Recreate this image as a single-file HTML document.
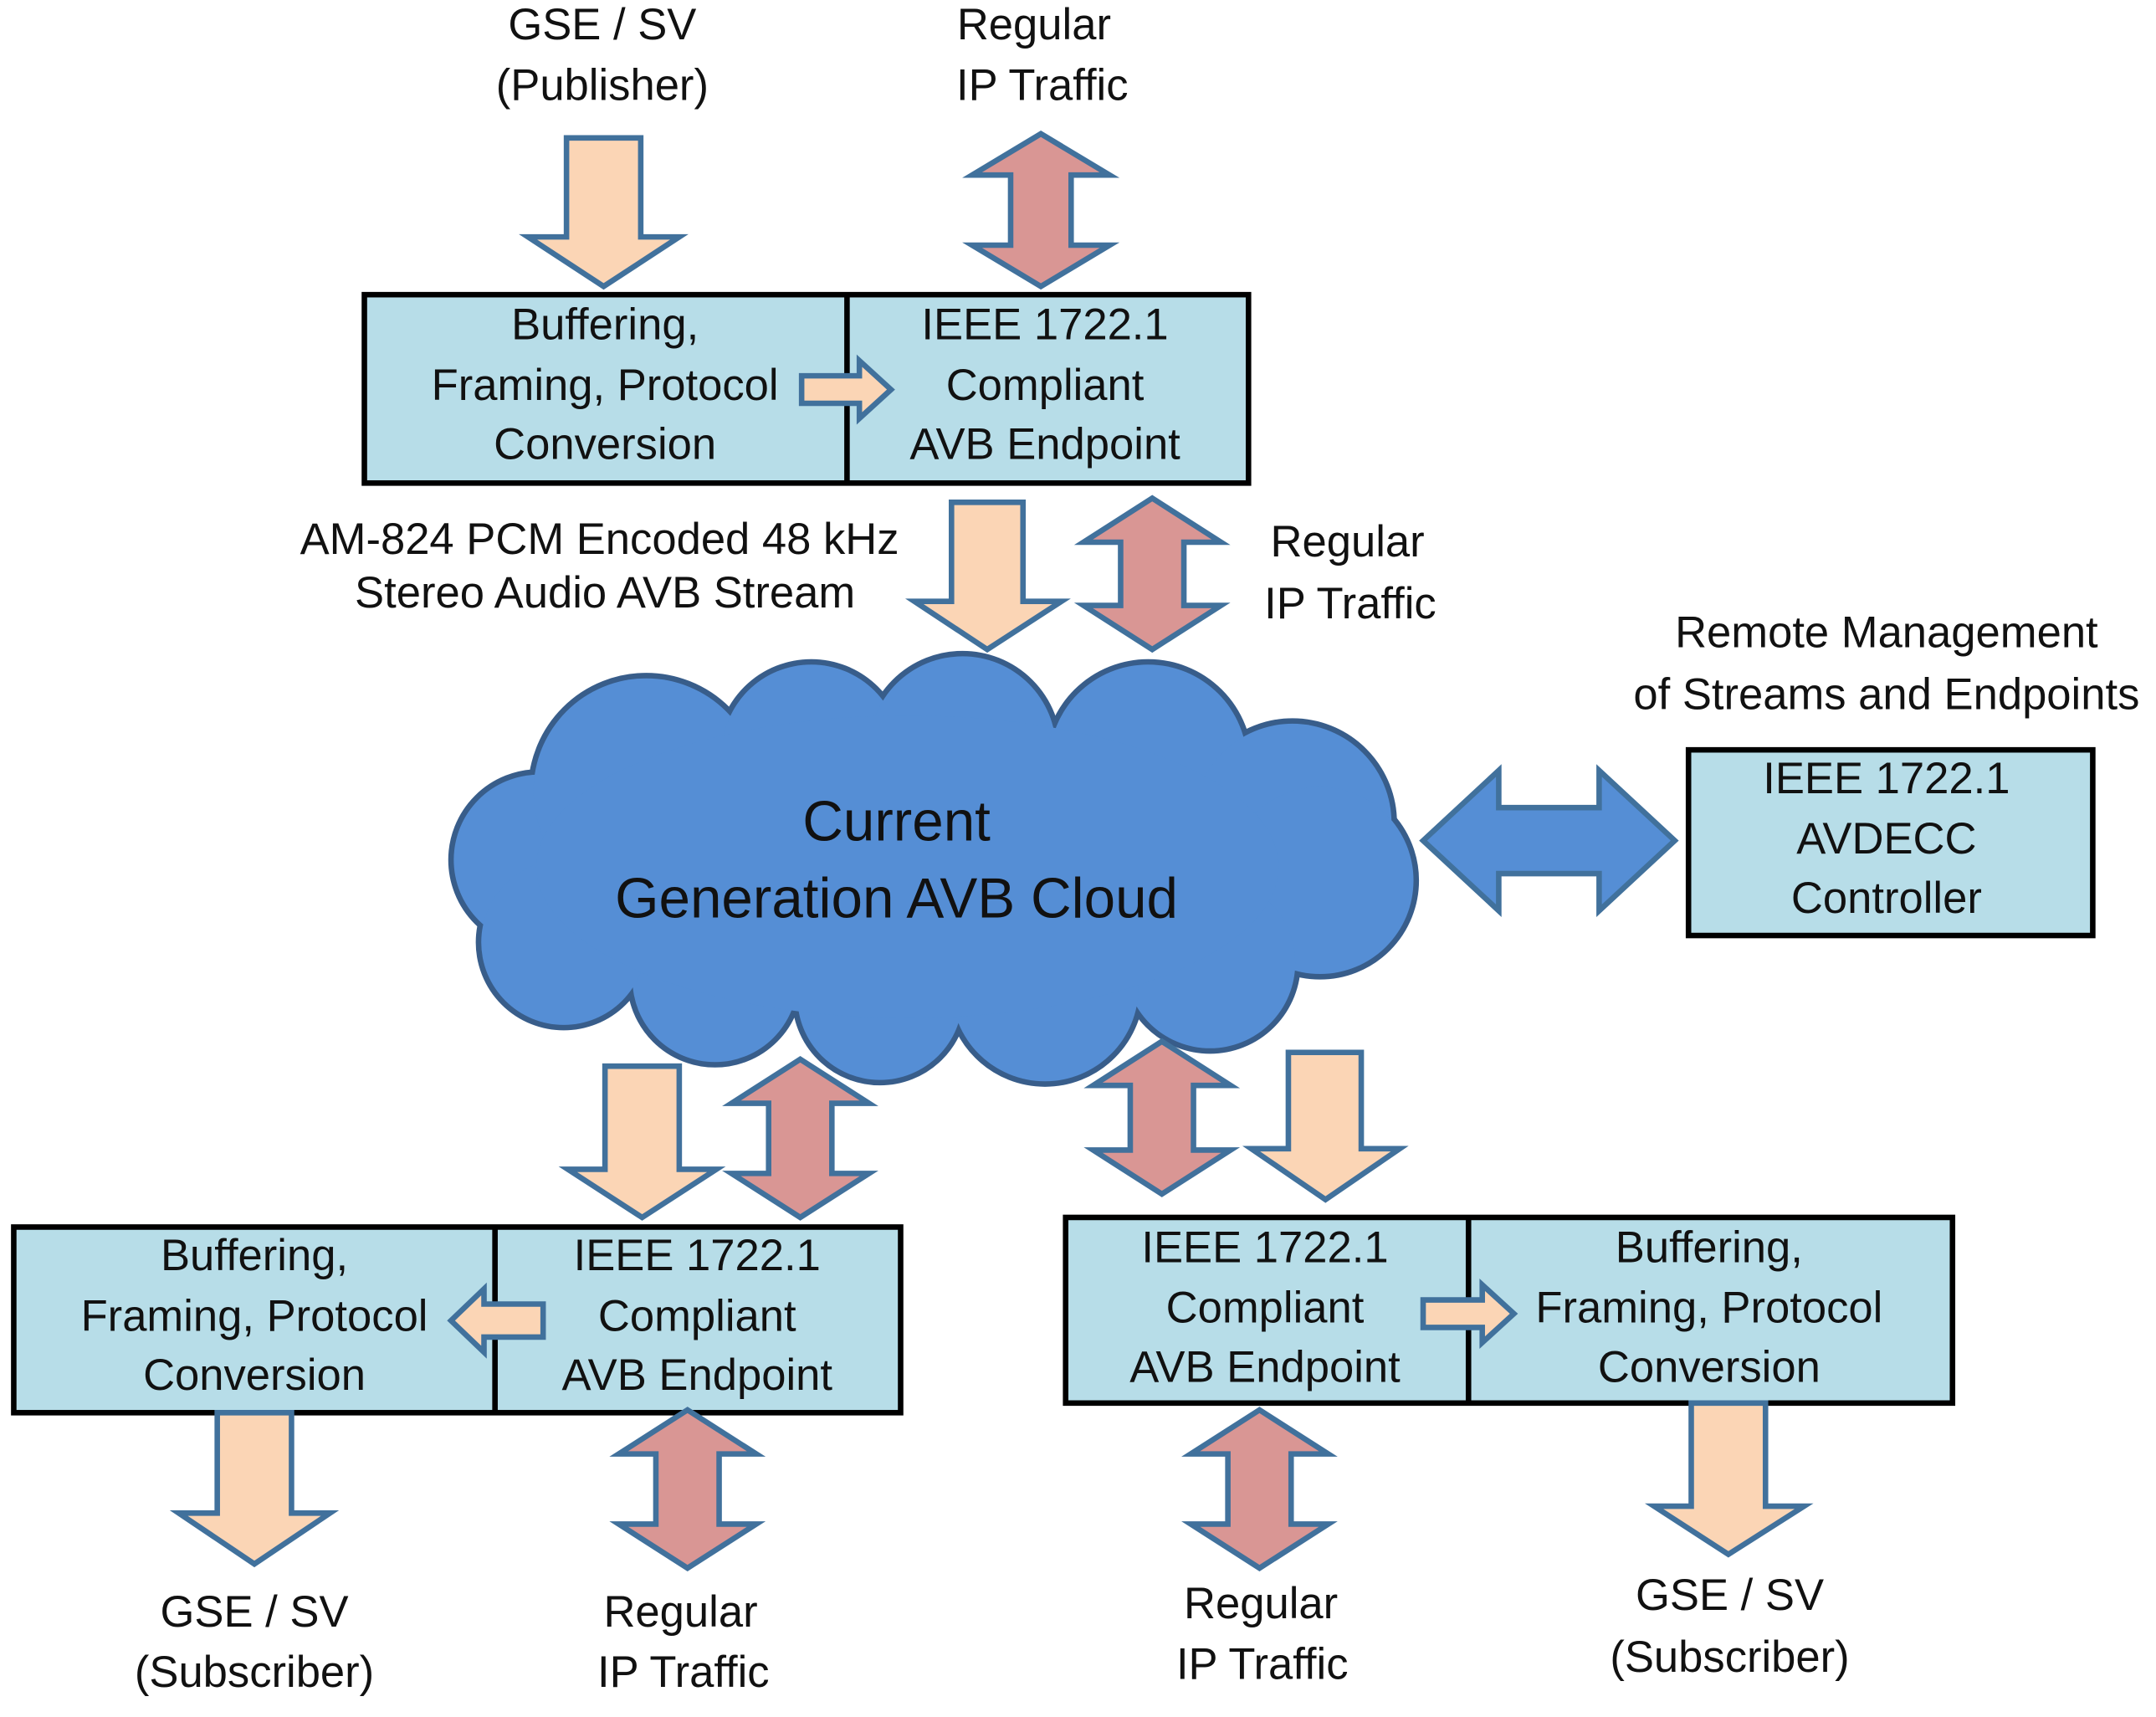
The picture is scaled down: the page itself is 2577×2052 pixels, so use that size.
<!DOCTYPE html>
<html><head><meta charset="utf-8"><style>
html,body{margin:0;padding:0;background:#fff;}
svg{display:block;}
text{font-family:"Liberation Sans",sans-serif;font-size:32px;fill:#111;text-anchor:middle;dominant-baseline:middle;}
.pe{fill:#fbd5b5;stroke:#41719c;stroke-width:4;stroke-linejoin:miter;}
.pk{fill:#d99694;stroke:#41719c;stroke-width:4;}
.bx{fill:#b7dde8;stroke:#000;stroke-width:4;}
</style></head><body>
<svg width="2577" height="2052" viewBox="0 0 1568 1248" xmlns="http://www.w3.org/2000/svg">
<rect width="1568" height="1248" fill="#fff"/>
<text x="438" y="20">GSE / SV</text>
<text x="438" y="64">(Publisher)</text>
<text x="752" y="20">Regular</text>
<text x="758" y="64">IP Traffic</text>
<path class="pe" d="M412 100 H466 V172 H494 L439 208 L384 172 H412 Z"/>
<path class="pk" d="M757 97 L807 127 H779 V178 H807 L757 208 L707 178 H735 V127 H707 Z"/>
<rect class="bx" x="265" y="214" width="643" height="137"/>
<line x1="616" y1="214" x2="616" y2="351" stroke="#000" stroke-width="4"/>
<text x="440" y="238">Buffering,</text>
<text x="440" y="282">Framing, Protocol</text>
<text x="440" y="325">Conversion</text>
<text x="760" y="238">IEEE 1722.1</text>
<text x="760" y="282">Compliant</text>
<text x="760" y="325">AVB Endpoint</text>
<path class="pe" d="M583 273 H625 V262 L648 283 L625 304 V293 H583 Z"/>
<text x="436" y="394">AM-824 PCM Encoded 48 kHz</text>
<text x="440" y="433">Stereo Audio AVB Stream</text>
<text x="980" y="396">Regular</text>
<text x="982" y="441">IP Traffic</text>
<path class="pe" d="M692 365 H744 V437 H772 L718 472 L665 437 H692 Z"/>
<path class="pk" d="M838 362 L888 394 H861 V440 H888 L838 472 L788 440 H815 V394 H788 Z"/>
<g stroke="#385d8a" stroke-width="8" fill="#385d8a">
<circle cx="392" cy="625" r="62"/><circle cx="470" cy="575" r="82"/><circle cx="590" cy="548" r="65"/>
<circle cx="700" cy="545" r="68"/><circle cx="835" cy="555" r="72"/><circle cx="940" cy="598" r="72"/>
<circle cx="960" cy="640" r="68"/><circle cx="880" cy="700" r="62"/><circle cx="760" cy="718" r="68"/>
<circle cx="640" cy="725" r="60"/><circle cx="520" cy="712" r="60"/><circle cx="410" cy="685" r="60"/>
<ellipse cx="660" cy="630" rx="270" ry="110"/>
</g>
<g fill="#558ed5">
<circle cx="392" cy="625" r="62"/><circle cx="470" cy="575" r="82"/><circle cx="590" cy="548" r="65"/>
<circle cx="700" cy="545" r="68"/><circle cx="835" cy="555" r="72"/><circle cx="940" cy="598" r="72"/>
<circle cx="960" cy="640" r="68"/><circle cx="880" cy="700" r="62"/><circle cx="760" cy="718" r="68"/>
<circle cx="640" cy="725" r="60"/><circle cx="520" cy="712" r="60"/><circle cx="410" cy="685" r="60"/>
<ellipse cx="660" cy="630" rx="270" ry="110"/>
</g>
<text x="652" y="600" style="font-size:41px">Current</text>
<text x="652" y="656" style="font-size:41px">Generation AVB Cloud</text>
<path d="M1035 611 L1090 560 V587 H1163 V560 L1218 611 L1163 662 V635 H1090 V662 Z" fill="#558ed5" stroke="#41719c" stroke-width="4"/>
<text x="1372" y="462">Remote Management</text>
<text x="1372" y="507">of Streams and Endpoints</text>
<rect class="bx" x="1228" y="545" width="294" height="135"/>
<text x="1372" y="568">IEEE 1722.1</text>
<text x="1372" y="612">AVDECC</text>
<text x="1372" y="655">Controller</text>
<path class="pe" d="M440 775 H494 V850 H521 L467 885 L413 850 H440 Z"/>
<path class="pk" d="M582 770 L632 802 H605 V853 H632 L582 885 L532 853 H559 V802 H532 Z"/>
<rect class="bx" x="10" y="892" width="645" height="135"/>
<line x1="360" y1="892" x2="360" y2="1027" stroke="#000" stroke-width="4"/>
<text x="185" y="915">Buffering,</text>
<text x="185" y="959">Framing, Protocol</text>
<text x="185" y="1002">Conversion</text>
<text x="507" y="915">IEEE 1722.1</text>
<text x="507" y="959">Compliant</text>
<text x="507" y="1002">AVB Endpoint</text>
<path class="pe" d="M395 948 H352 V937 L328 960 L352 983 V972 H395 Z"/>
<path class="pe" d="M158 1027 H212 V1100 H240 L185 1137 L130 1100 H158 Z"/>
<path class="pk" d="M500 1025 L550 1057 H523 V1108 H550 L500 1140 L450 1108 H477 V1057 H450 Z"/>
<text x="185" y="1174">GSE / SV</text>
<text x="185" y="1218">(Subscriber)</text>
<text x="495" y="1174">Regular</text>
<text x="497" y="1218">IP Traffic</text>
<path class="pk" d="M845 757 L895 789 H868 V836 H895 L845 868 L795 836 H822 V789 H795 Z"/>
<path class="pe" d="M937 765 H990 V835 H1018 L964 872 L910 835 H937 Z"/>
<rect class="bx" x="775" y="885" width="645" height="135"/>
<line x1="1068" y1="885" x2="1068" y2="1020" stroke="#000" stroke-width="4"/>
<text x="920" y="909">IEEE 1722.1</text>
<text x="920" y="953">Compliant</text>
<text x="920" y="996">AVB Endpoint</text>
<text x="1243" y="909">Buffering,</text>
<text x="1243" y="953">Framing, Protocol</text>
<text x="1243" y="996">Conversion</text>
<path class="pe" d="M1035 945 H1078 V934 L1101 955 L1078 976 V965 H1035 Z"/>
<path class="pk" d="M916 1025 L966 1057 H939 V1108 H966 L916 1140 L866 1108 H893 V1057 H866 Z"/>
<path class="pe" d="M1230 1020 H1284 V1095 H1312 L1257 1130 L1203 1095 H1230 Z"/>
<text x="917" y="1168">Regular</text>
<text x="918" y="1212">IP Traffic</text>
<text x="1258" y="1162">GSE / SV</text>
<text x="1258" y="1207">(Subscriber)</text>
</svg>
</body></html>
